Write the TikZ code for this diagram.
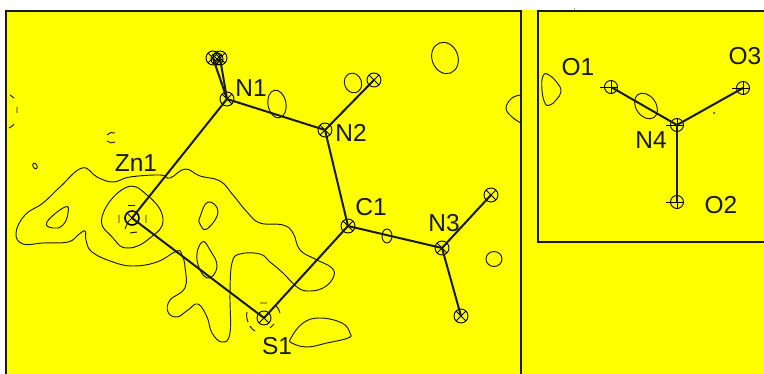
\documentclass[tikz,border=0pt]{standalone}
\usepackage{fontspec}
\setmainfont{Liberation Sans}
\definecolor{bgyellow}{RGB}{255,255,0}
\tikzset{
  frame/.style={line width=2pt,black!90},
  contour/.style={line width=0.95pt,black!90},
  bond/.style={line width=2pt,black!90},
  lbl/.style={font=\fontsize{24.5}{24.5}\selectfont,inner sep=0pt,text=black!90},
  atomx/.style={circle,draw,line width=0.9pt,minimum size=#1,inner sep=0pt,
    path picture={\draw[line width=0.9pt]
      (path picture bounding box.north west)--(path picture bounding box.south east)
      (path picture bounding box.north east)--(path picture bounding box.south west);}},
  atomp/.style={circle,draw,line width=0.9pt,minimum size=13pt,inner sep=0pt,
    path picture={\draw[line width=0.9pt]
      (path picture bounding box.north)--(path picture bounding box.south)
      (path picture bounding box.west)--(path picture bounding box.east);}},
  tick/.style={line width=0.9pt}
}
\begin{document}
\begin{tikzpicture}[x=1pt,y=-1pt]
\useasboundingbox (0,0) rectangle (764,374);
\fill[bgyellow] (5,10) rectangle (764,374);
\fill[bgyellow!70!black] (574,8.4) rectangle (575,10);
% frames
\draw[frame] (6,374) -- (6,11) -- (521,11) -- (521,374);
\draw[frame] (764,11.5) -- (538,11.5) -- (538,242) -- (764,242);
% contours
\draw[contour] plot[smooth cycle,tension=0.7] coordinates {(16,233)(25,215)(43,203)(60,187)(82,168)(97,177)(113,182)(130,177)(160,175)(170,178)(185,169)(200,176)(220,181)(233,195)(247,212)(260,223)(283,225)(293,233)(300,250)(315,259)(332,268)(333,278)(323,288)(308,291)(297,287)(283,273)(270,262)(260,254)(240,254)(232,263)(230,293)(230,333)(222,342)(212,333)(207,317)(198,304)(188,310)(177,317)(168,312)(170,300)(185,288)(185,267)(182,255)(177,251)(157,262)(133,266)(113,262)(92,252)(86,240)(85,231)(78,235)(68,242)(43,243)(23,244)};
\draw[contour] plot[smooth cycle,tension=0.8] coordinates {(102,217)(125,188)(147,195)(163,219)(150,238)(128,248)(113,238)};
\draw[contour] plot[smooth cycle,tension=0.8] coordinates {(47,222)(65,207)(68,213)(63,225)(53,228)};
\draw[contour] plot[smooth cycle,tension=0.8] coordinates {(200,217)(208,202)(218,212)(207,229)(200,224)};
\draw[contour] plot[smooth cycle,tension=0.8] coordinates {(202,242)(197,260)(207,278)(217,267)(210,250)};
\draw[contour] plot[smooth cycle,tension=0.7] coordinates {(291,338)(303,323)(320,318)(342,323)(350,333)(348,338)(327,343)(307,347)(292,343)};
\draw[contour,rotate around={10:(277,104)}] (277,104) ellipse (9 and 14);
\draw[contour,rotate around={20:(353,83)}] (353,83) ellipse (8.5 and 10);
\draw[contour,rotate around={20:(445,58)}] (445,58) ellipse (13 and 16);
\draw[contour] (387,236) ellipse (5 and 7);
\draw[contour] (494,259) ellipse (8 and 7.5);
\draw[contour,rotate around={30:(35,166)}] (35,166) ellipse (2 and 3);
\draw[contour] plot[smooth,tension=0.7] coordinates {(521,95)(512,98)(506,108)(512,117)(521,123)};
\draw[contour] plot[smooth cycle,tension=0.8] coordinates {(543,76)(549,75)(558,84)(561,92)(556,100)(550,105)(545,103)(542,90)};
\draw[contour,rotate around={35:(646,106)}] (646,106) ellipse (10 and 14);
% fragments
\draw[contour] (10,95) -- (14,98) (17,107) -- (17,113) (14,124) to[bend left=15] (9,128);
\draw[contour] (107,135) to[bend left=35] (115,133) (107,141) to[bend right=35] (115,142);
\fill[black!90] (714,113) circle (1);
% atoms
\node[atomx=14pt,line width=1.6pt] (zn) at (132,218) {};
\node[atomx=14pt] (n1) at (227,99) {};
\node[atomx=14pt] (n2) at (325,130) {};
\node[atomx=14pt] (c1) at (348,226) {};
\node[atomx=14pt] (n3) at (442,248) {};
\node[atomx=14pt] (s1) at (264,318) {};
\node[atomx=14pt] (h1) at (213,58) {};
\node[atomx=14pt] (h2) at (220,58) {};
\node[atomx=12pt] (h3) at (217,59) {};
\node[atomx=14pt] (h4) at (374,80) {};
\node[atomx=14pt] (h5) at (491,195) {};
\node[atomx=14pt] (h6) at (461,316) {};
\node[atomp] (n4) at (677,125) {};
\node[atomp] (o1) at (611,87) {};
\node[atomp] (o2) at (677,202) {};
\node[atomp] (o3) at (743,88) {};
\foreach \a in {n4,o1,o2,o3} \draw[tick] ([xshift=-11pt]\a.center) -- (\a.center);
% dashed rings
\draw[contour] (128,205.5) -- (135,205.5) (119,215) -- (119,223) (146,215) -- (146,223) (130,233) to[bend right=10] (137,232) (125,229) -- (128,222);
\draw[contour] (247,312) to[bend right=15] (248,322) (250,326) to[bend right=15] (255,331)
  (260,303) to[bend left=10] (267,303) (275,305) to[bend left=20] (280,313) (274,324) to[bend right=15] (270,328);
% bonds
\draw[bond] (zn.center) -- (n1.center);
\draw[bond] (zn.center) -- (s1.center);
\draw[bond] (n1.center) -- (n2.center);
\draw[bond] (n1.center) -- (h1.center);
\draw[bond] (n1.center) -- (h2.center);
\draw[bond] (n2.center) -- (h4.center);
\draw[bond] (n2.center) -- (c1.center);
\draw[bond] (c1.center) -- (s1.center);
\draw[bond] (c1.center) -- (n3.center);
\draw[bond] (n3.center) -- (h5.center);
\draw[bond] (n3.center) -- (h6.center);
\draw[bond] (n4.center) -- (o1.center);
\draw[bond] (n4.center) -- (o2.center);
\draw[bond] (n4.center) -- (o3.center);
% labels
\node[lbl] (lzn) at (136,163) {Zn1};
\node[lbl] (ln1) at (251,88) {N1};
\node[lbl] (ln2) at (351,133) {N2};
\node[lbl] (lc1) at (371,207) {C1};
\node[lbl] (ln3) at (444,223) {N3};
\node[lbl] (ls1) at (277,346) {S1};
\node[lbl] (lo1) at (578,67) {O1};
\node[lbl] (lo3) at (745,56) {O3};
\node[lbl] (ln4) at (651,140) {N4};
\node[lbl] (lo2) at (721,205) {O2};
\end{tikzpicture}
\end{document}
